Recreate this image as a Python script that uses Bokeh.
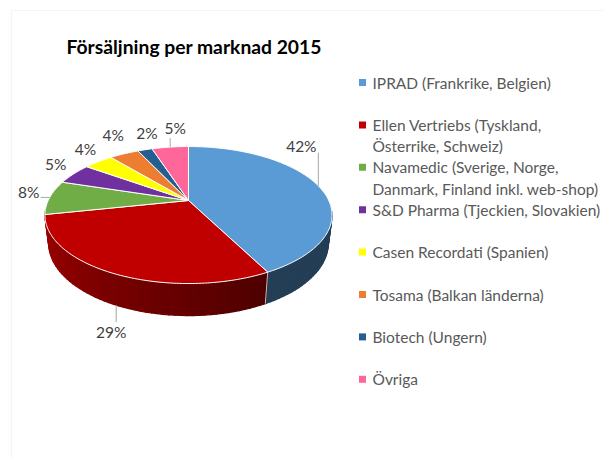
import numpy as np
from bokeh.plotting import figure
from bokeh.models import Range1d, BoxAnnotation
from bokeh.core.properties import value
from bokeh.embed import file_html
from bokeh.resources import INLINE

# ---------------- data ----------------
title_text = "Försäljning per marknad 2015"
categories = [
    "IPRAD (Frankrike, Belgien)",
    "Ellen Vertriebs (Tyskland,\nÖsterrike, Schweiz)",
    "Navamedic (Sverige, Norge,\nDanmark, Finland inkl. web-shop)",
    "S&D Pharma (Tjeckien, Slovakien)",
    "Casen Recordati (Spanien)",
    "Tosama (Balkan länderna)",
    "Biotech (Ungern)",
    "Övriga",
]
shares = [42, 29, 8, 5, 4, 4, 2, 5]
colors = ["#5B9BD5", "#C00000", "#70AD47", "#7030A0", "#FFFF00", "#ED7D31", "#255E91", "#FF6699"]

# ---------------- layout (picture pixel coordinates) ----------------
CX, CY = 188.0, 200.0          # pie apex on screen
FOC = 585.0                    # focal scale
ALPHA = np.radians(27.8)       # tilt
DIST = 4.17                    # camera distance (in radii)
DEPTH = 0.227                  # pie thickness (in radii)
CA, SA = np.cos(ALPHA), np.sin(ALPHA)

# label offsets from anchor (dx, dy) and leader line end offsets (None = no leader)
label_off = [(-17, -40), (-5, 27), (-21, -5), (-18, -10), (-13, -13), (-11, -19), (2, -17), (5, -19)]
leader_off = [(0, -33), (0, 17), (-9, 0), None, None, None, None, (0, -9)]

LEG_X_MARK, LEG_X_TEXT = 362, 372
LEG_Y0, LEG_STEP, LEG_LINE = 82, 42.4, 21.2

FONT = "Lato"


def proj(theta, r, yv):
    X = r * np.sin(theta)
    Z = -r * np.cos(theta)
    d = DIST - Z * CA - yv * SA
    v = yv * CA - Z * SA
    return CX + FOC * X / d, CY - FOC * v / d


def shade(hex_col, f):
    h = hex_col.lstrip("#")
    rgb = [int(h[i:i + 2], 16) for i in (0, 2, 4)]
    return "#%02x%02x%02x" % tuple(int(max(0, min(255, c * f))) for c in rgb)


def wall_factor(theta):
    deg = np.degrees(theta)
    return float(np.clip(0.40 + (deg - 152.0) / 103.0 * 0.43, 0.40, 0.86))


p = figure(width=603, height=458, x_range=Range1d(0, 603), y_range=Range1d(458, 0),
           output_backend="svg", toolbar_location=None, min_border=0)
p.axis.visible = False
p.grid.visible = False
p.outline_line_color = None
p.background_fill_color = "white"
p.border_fill_color = "white"

# chart frame
p.add_layout(BoxAnnotation(left=11, top=10, right=700, bottom=700, fill_alpha=0,
                           line_color="#D9D9D9", line_width=1.2))

vals = np.array(shares, dtype=float)
frac = vals / vals.sum()
edges = np.concatenate([[0.0], np.cumsum(frac)]) * 2 * np.pi
n = len(vals)

# ---- side walls ----
segs = []
for i in range(n):
    t0, t1 = edges[i], edges[i + 1]
    m = max(2, int(np.ceil((t1 - t0) / np.radians(2.0))))
    ts = np.linspace(t0, t1, m + 1)
    for a, b in zip(ts[:-1], ts[1:]):
        mid = 0.5 * (a + b)
        zc = -np.cos(mid)
        if zc < 0.15:
            continue
        xa, ya = proj(a, 1, 0)
        xb, yb = proj(b, 1, 0)
        xa2, ya2 = proj(a, 1, -DEPTH)
        xb2, yb2 = proj(b, 1, -DEPTH)
        segs.append((zc, [xa, xb, xb2, xa2], [ya, yb, yb2, ya2], shade(colors[i], wall_factor(mid))))
segs.sort(key=lambda s: s[0])
p.patches([s[1] for s in segs], [s[2] for s in segs], fill_color=[s[3] for s in segs],
          line_color=[s[3] for s in segs], line_width=1.2, line_join="round")

# boundary lines on the visible wall
bx, by = [], []
for t in edges[1:-1]:
    if -np.cos(t) > 0.3:
        x1, y1 = proj(t, 1, 0)
        x2, y2 = proj(t, 1, -DEPTH)
        bx.append([x1, x2])
        by.append([y1, y2])
if bx:
    p.multi_line(bx, by, line_color="#E8E8E8", line_width=1, line_alpha=0.8)

# ---- top faces ----
txs, tys = [], []
for i in range(n):
    ts = np.linspace(edges[i], edges[i + 1], max(3, int(np.degrees(edges[i + 1] - edges[i]))) + 1)
    px, py = proj(ts, 1, 0)
    txs.append([CX] + list(px))
    tys.append([CY] + list(py))
p.patches(txs, tys, fill_color=colors, line_color="white", line_width=1)

# ---- data labels ----
lab_x, lab_y, lab_t = [], [], []
lx, ly = [], []
for i in range(n):
    mid = 0.5 * (edges[i] + edges[i + 1])
    if -np.cos(mid) > 0.5:
        ax, ay = proj(mid, 1, -DEPTH)
    else:
        ax, ay = proj(mid, 1, 0)
    dx, dy = label_off[i]
    lab_x.append(ax + dx)
    lab_y.append(ay + dy)
    lab_t.append(f"{shares[i]}%")
    if leader_off[i] is not None:
        ex, ey = leader_off[i]
        lx.append([ax, ax + ex])
        ly.append([ay, ay + ey])
p.multi_line(lx, ly, line_color="#A6A6A6", line_width=1)
p.text(lab_x, lab_y, text=lab_t, text_font=value(FONT), text_font_size="15.5px",
       text_color="#404040", text_align="center", text_baseline="middle")

# ---- legend ----
mk_y, lt_x, lt_y, lt_t = [], [], [], []
for i, cat in enumerate(categories):
    y0 = LEG_Y0 + i * LEG_STEP
    mk_y.append(y0)
    for k, line in enumerate(cat.split("\n")):
        lt_x.append(LEG_X_TEXT)
        lt_y.append(y0 + k * LEG_LINE)
        lt_t.append(line)
p.rect([LEG_X_MARK] * n, mk_y, width=7, height=7, fill_color=colors, line_color=None)
p.text(lt_x, lt_y, text=lt_t, text_font=value(FONT), text_font_size="15.5px",
       text_color="#595959", text_align="left", text_baseline="middle")

# ---- title ----
p.text([66], [46], text=[title_text], text_font=value(FONT), text_font_size="19.3px",
       text_font_style="bold", text_color="#000000", text_align="left", text_baseline="middle")

open("out.html", "w").write(file_html(p, INLINE))
